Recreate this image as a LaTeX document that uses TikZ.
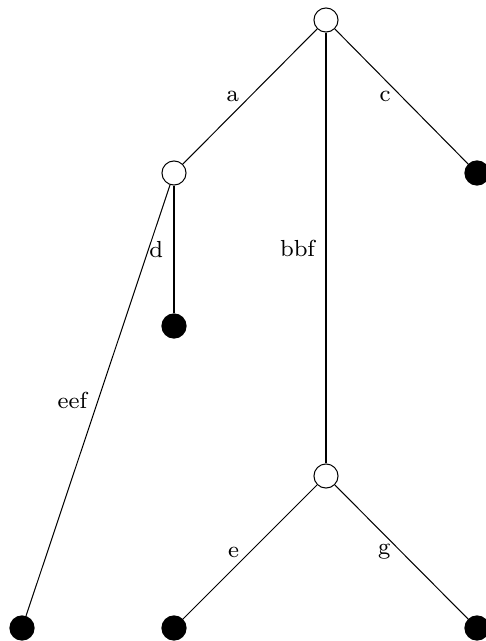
\documentclass[tikz,border=0pt]{standalone}
\usepackage{tikz}
\usetikzlibrary{positioning}
\tikzset{
  edge/.style={line width=0.35pt},
  odot/.style={circle, draw, line width=0.35pt, fill=white, inner sep=0pt, minimum size=8.3pt},
  bdot/.style={circle, draw, fill=black, inner sep=0pt, minimum size=8.3pt},
  lab/.style={left, inner sep=3.6pt, font=\footnotesize}
}
\begin{document}
\begin{tikzpicture}[x=0.3445pt,y=-0.3445pt]
  \useasboundingbox (0,0) rectangle (485,641);
  % inner nodes
  \node[odot] (root) at (326,20) {};
  \node[odot] (left) at (174,173) {};
  \node[odot] (mid) at (326,476) {};
  % leaves
  \node[bdot] (right) at (477,173) {};
  \node[bdot] (dleaf) at (174,326) {};
  \node[bdot] (eefleaf) at (22,628) {};
  \node[bdot] (eleaf) at (174,628) {};
  \node[bdot] (gleaf) at (477,628) {};
  % edges with labels
  \draw[edge] (root) -- node[lab] {a} (left);
  \draw[edge] (root) -- node[lab] {bbf} (mid);
  \draw[edge] (root) -- node[lab] {c} (right);
  \draw[edge] (left) -- node[lab] {d} (dleaf);
  \draw[edge] (left) -- node[lab] {eef} (eefleaf);
  \draw[edge] (mid) -- node[lab] {e} (eleaf);
  \draw[edge] (mid) -- node[lab] {g} (gleaf);
\end{tikzpicture}
\end{document}
